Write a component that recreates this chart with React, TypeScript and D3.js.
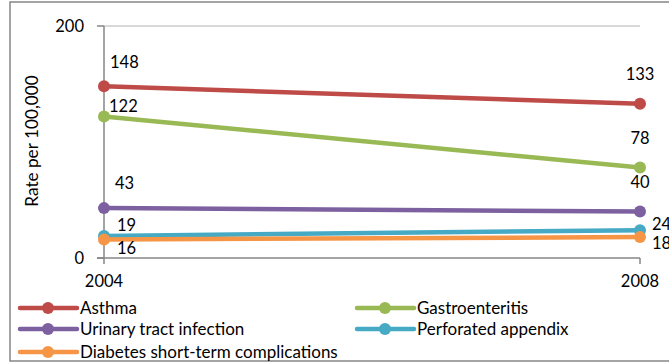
import React from "react";
import * as d3 from "d3";

const years = ["2004", "2008"];
const seriesNames = [
  "Asthma",
  "Gastroenteritis",
  "Urinary tract infection",
  "Perforated appendix",
  "Diabetes short-term complications",
];
const asthma = [148, 133];
const gastro = [122, 78];
const uti = [43, 40];
const appendix = [19, 24];
const diabetes = [16, 18];
const yTicks = [0, 200];
const colors = ["#BE4B48", "#98B954", "#7D60A0", "#46AAC5", "#F69545"];

// label placement: [dx, dy, anchor] per point (styling only)
const labelPlacement: [number, number, string][][] = [
  [[6, -24, "start"], [0, -29, "middle"]],
  [[5, -10, "start"], [0, -29, "middle"]],
  [[11, -25, "start"], [0, -29, "middle"]],
  [[13, -11, "start"], [12, -6, "start"]],
  [[13, 9, "start"], [12, 6, "start"]],
];

const FONT = "Lato, 'Open Sans', sans-serif";

export default function App() {
  const allSeries = [asthma, gastro, uti, appendix, diabetes];
  const x = d3.scalePoint<string>().domain(years).range([104, 640]);
  const y = d3.scaleLinear().domain([0, 200]).range([258, 26]);
  const line = d3
    .line<number>()
    .x((_, i) => x(years[i]) as number)
    .y((d) => y(d));

  const legendPos = [
    [20, 308],
    [357, 308],
    [20, 329],
    [357, 329],
    [20, 352],
  ];

  return (
    <svg
      width={669}
      height={362}
      style={{ position: "absolute", left: 0, top: 0, background: "#fff" }}
      fontFamily={FONT}
    >
      <rect x={10} y={2} width={700} height={359} fill="#fff" stroke="#868686" strokeWidth={1.5} />
      {/* gridline */}
      <line x1={104} x2={640} y1={y(200)} y2={y(200)} stroke="#D9D9D9" strokeWidth={2} />
      {/* axes */}
      <line x1={104} x2={104} y1={y(200)} y2={y(0)} stroke="#868686" strokeWidth={1.5} />
      <line x1={97} x2={640} y1={y(0)} y2={y(0)} stroke="#868686" strokeWidth={1.5} />
      {yTicks.map((t) => (
        <g key={t}>
          <line x1={97} x2={104} y1={y(t)} y2={y(t)} stroke="#868686" strokeWidth={1.5} />
          <text x={84} y={y(t)} dy="0.35em" textAnchor="end" fontSize={16.5} fill="#000">
            {t}
          </text>
        </g>
      ))}
      {years.map((yr) => (
        <g key={yr}>
          <line x1={x(yr)} x2={x(yr)} y1={y(0)} y2={y(0) + 6} stroke="#868686" strokeWidth={1.5} />
          <text x={x(yr)} y={281} dy="0.35em" textAnchor="middle" fontSize={16.5} fill="#000">
            {yr}
          </text>
        </g>
      ))}
      <text
        transform={`translate(32,141) rotate(-90)`}
        textAnchor="middle"
        dy="0.35em"
        fontSize={17.2}
        fill="#000"
      >
        Rate per 100,000
      </text>
      {allSeries.map((s, si) => (
        <g key={si}>
          <path d={line(s) || ""} fill="none" stroke={colors[si]} strokeWidth={4.5} strokeLinecap="round" />
          {s.map((v, i) => (
            <circle key={i} cx={x(years[i])} cy={y(v)} r={6} fill={colors[si]} />
          ))}
        </g>
      ))}
      {allSeries.map((s, si) =>
        s.map((v, i) => {
          const [dx, dy, anchor] = labelPlacement[si][i];
          return (
            <text
              key={`${si}-${i}`}
              x={(x(years[i]) as number) + dx}
              y={y(v) + dy}
              dy="0.35em"
              textAnchor={anchor as any}
              fontSize={16.5}
              fill="#000"
            >
              {v}
            </text>
          );
        })
      )}
      {seriesNames.map((name, i) => {
        const [lx, ly] = legendPos[i];
        return (
          <g key={name}>
            <line x1={lx} x2={lx + 57} y1={ly} y2={ly} stroke={colors[i]} strokeWidth={4.5} strokeLinecap="round" />
            <circle cx={lx + 28} cy={ly} r={6} fill={colors[i]} />
            <text x={lx + 60} y={ly} dy="0.35em" fontSize={17} fill="#000">
              {name}
            </text>
          </g>
        );
      })}
    </svg>
  );
}
